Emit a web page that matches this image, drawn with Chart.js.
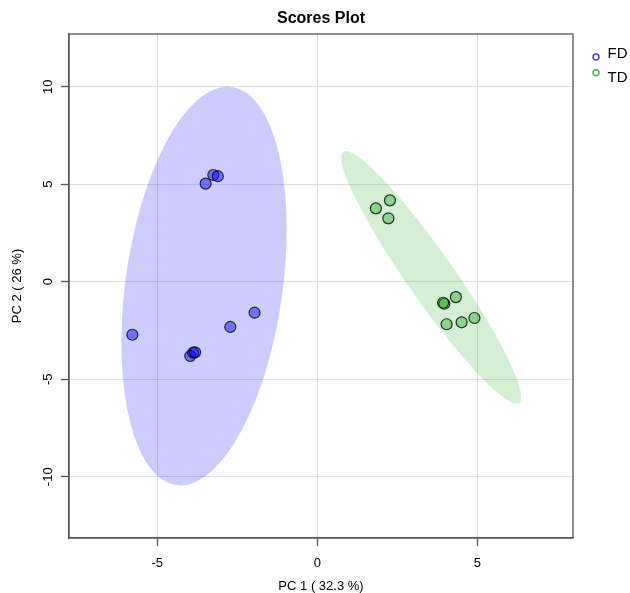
<!DOCTYPE html>
<html>
<head>
<meta charset="utf-8">
<script src="https://cdn.jsdelivr.net/npm/chart.js@4.4.0/dist/chart.umd.min.js"></script>
<style>
  html, body { margin: 0; padding: 0; background: #fff; }
  #wrap { width: 630px; height: 593px; }
</style>
</head>
<body>
<div id="wrap"><canvas id="scores" width="630" height="593"></canvas></div>
<script>
// scores
const groups = ["FD", "TD"];
const fdX = [-3.49, -3.25, -3.11, -5.78, -3.97, -3.88, -3.82, -2.72, -1.96];
const fdY = [5.03, 5.47, 5.41, -2.72, -3.81, -3.64, -3.62, -2.32, -1.59];
const tdX = [1.83, 2.27, 2.22, 3.97, 3.93, 4.33, 4.04, 4.51, 4.91];
const tdY = [3.76, 4.17, 3.25, -1.13, -1.08, -0.79, -2.18, -2.08, -1.86];

// confidence ellipses: centre, semi axes, angle (deg) in data units
const fdEllipse = [-3.54, -0.22, 10.25, 2.47, 85.65];
const tdEllipse = [3.56, 0.215, 7.02, 0.825, -67.3];

const xTicks = [-5, 0, 5];
const yTicks = [-10, -5, 0, 5, 10];
const xRange = [-7.76, 7.99];
const yRange = [-13.14, 12.70];

const toPoints = (xs, ys) => xs.map((x, i) => ({ x: x, y: ys[i] }));

Chart.defaults.font.family = "'Liberation Sans', Arial, sans-serif";
Chart.defaults.color = "#000";

// ellipses behind the points, box + legend on top
const ellipsePlugin = {
  id: "ellipses",
  beforeDatasetsDraw(chart) {
    const { ctx, chartArea, scales: { x, y } } = chart;
    chart.data.datasets.forEach((ds) => {
      const [cx, cy, a, b, deg] = ds.ellipse;
      const t = deg * Math.PI / 180;
      const px = (vx, vy) => ({ x: x.getPixelForValue(vx), y: y.getPixelForValue(vy) });
      const c = px(cx, cy);
      const u = px(cx + a * Math.cos(t), cy + a * Math.sin(t));
      const v = px(cx - b * Math.sin(t), cy + b * Math.cos(t));
      ctx.save();
      ctx.beginPath();
      ctx.rect(chartArea.left, chartArea.top, chartArea.width, chartArea.height);
      ctx.clip();
      ctx.transform(u.x - c.x, u.y - c.y, v.x - c.x, v.y - c.y, c.x, c.y);
      ctx.beginPath();
      ctx.arc(0, 0, 1, 0, Math.PI * 2);
      ctx.fillStyle = ds.ellipseColor;
      ctx.fill();
      ctx.restore();
    });
  },
  afterDraw(chart) {
    const { ctx, chartArea } = chart;
    ctx.save();
    ctx.strokeStyle = "#555";
    ctx.lineWidth = 1.3;
    ctx.strokeRect(chartArea.left, chartArea.top, chartArea.width, chartArea.height);

    // legend, R style
    ctx.font = "15px 'Liberation Sans', Arial, sans-serif";
    ctx.textBaseline = "middle";
    ctx.textAlign = "left";
    const circleY = [57, 72.7];
    const textY = [54, 77.4];
    chart.data.datasets.forEach((ds, i) => {
      ctx.beginPath();
      ctx.arc(596, circleY[i], 3, 0, Math.PI * 2);
      ctx.strokeStyle = ds.legendColor;
      ctx.lineWidth = 1.4;
      ctx.stroke();
      ctx.fillStyle = "#000";
      ctx.fillText(ds.label, 607.5, textY[i]);
    });
    ctx.restore();
  }
};

const ctx = document.getElementById("scores").getContext("2d");

new Chart(ctx, {
  type: "scatter",
  data: {
    datasets: [
      {
        label: groups[0],
        data: toPoints(fdX, fdY),
        backgroundColor: "rgba(0, 0, 255, 0.45)",
        borderColor: "rgba(0, 0, 0, 0.8)",
        ellipse: fdEllipse,
        ellipseColor: "rgba(0, 0, 255, 0.2)",
        legendColor: "#3c3cf0"
      },
      {
        label: groups[1],
        data: toPoints(tdX, tdY),
        backgroundColor: "rgba(0, 160, 0, 0.35)",
        borderColor: "rgba(0, 0, 0, 0.8)",
        ellipse: tdEllipse,
        ellipseColor: "rgba(0, 160, 0, 0.17)",
        legendColor: "#4aae4a"
      }
    ]
  },
  options: {
    responsive: false,
    animation: false,
    events: [],
    elements: {
      point: { radius: 5.5, borderWidth: 1.2, hoverRadius: 5.5 }
    },
    layout: { padding: { left: 0, right: 57, top: 0, bottom: 0 } },
    plugins: {
      legend: { display: false },
      tooltip: { enabled: false },
      title: {
        display: true,
        text: "Scores Plot",
        fullSize: false,
        color: "#000",
        font: { size: 16, weight: "bold" },
        padding: { top: 9.4, bottom: 5.4 }
      }
    },
    scales: {
      x: {
        type: "linear",
        min: xRange[0],
        max: xRange[1],
        afterBuildTicks: (s) => { s.ticks = xTicks.map((v) => ({ value: v })); },
        afterFit: (s) => { s.height = 55; },
        grid: { color: "#dcdcdc", lineWidth: 1, tickLength: 8, tickColor: "#555", tickWidth: 1.3 },
        border: { display: true, color: "#555", width: 1.3 },
        ticks: { font: { size: 13 }, padding: 10, color: "#000", maxRotation: 0 },
        title: { display: true, text: "PC 1 ( 32.3 %)", font: { size: 13 }, padding: { top: 0, bottom: -1 } }
      },
      y: {
        type: "linear",
        min: yRange[0],
        max: yRange[1],
        afterBuildTicks: (s) => { s.ticks = yTicks.map((v) => ({ value: v })); },
        afterFit: (s) => { s.width = 69; },
        grid: { color: "#dcdcdc", lineWidth: 1, tickLength: 8, tickColor: "#555", tickWidth: 1.3 },
        border: { display: true, color: "#555", width: 1.3 },
        ticks: { font: { size: 13 }, padding: 3.5, color: "#000", minRotation: 90, maxRotation: 90, crossAlign: "center" },
        title: { display: true, text: "PC 2 ( 26 %)", font: { size: 13 }, padding: { top: 9.2, bottom: 0 } }
      }
    }
  },
  plugins: [ellipsePlugin]
});
</script>
</body>
</html>
